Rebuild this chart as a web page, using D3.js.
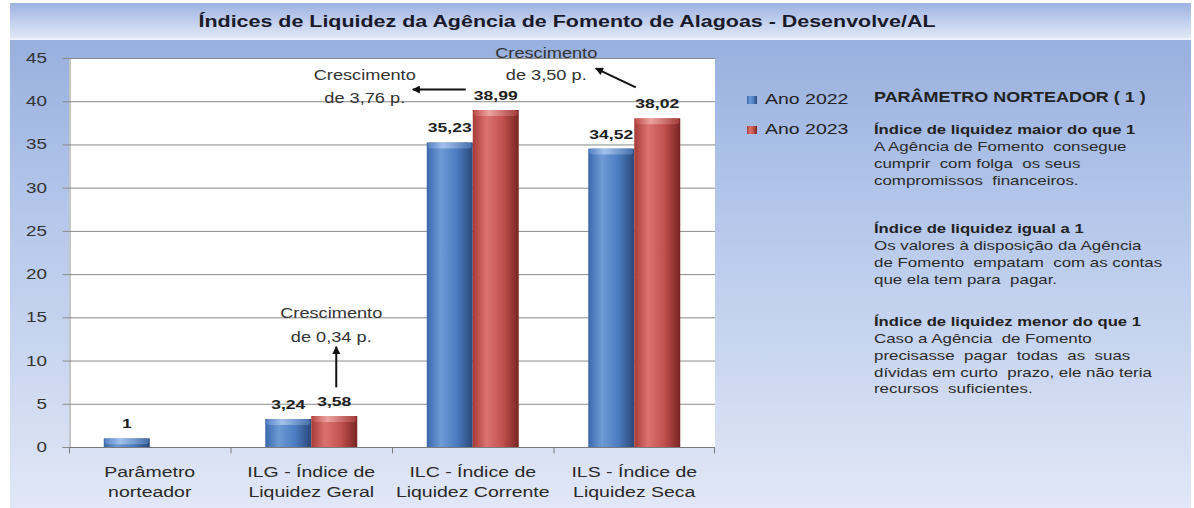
<!DOCTYPE html>
<html>
<head>
<meta charset="utf-8">
<script src="https://cdn.jsdelivr.net/npm/d3@7"></script>
<style>
  html, body { margin: 0; padding: 0; background: #fff; }
  svg { display: block; font-family: "Liberation Sans", Arial, sans-serif; }
</style>
</head>
<body>
<svg id="chart" width="1194" height="508"></svg>
<script>
// data
const categories = ["Parâmetro norteador", "ILG", "ILC", "ILS"];
const categoryLines = [
  ["Parâmetro", "norteador"],
  ["ILG - Índice de", "Liquidez Geral"],
  ["ILC - Índice de", "Liquidez Corrente"],
  ["ILS - Índice de", "Liquidez Seca"]
];
const years = ["Ano 2022", "Ano 2023"];
const values2022 = [1, 3.24, 35.23, 34.52];
const values2023 = [null, 3.58, 38.99, 38.02];
const yTicks = [0, 5, 10, 15, 20, 25, 30, 35, 40, 45];

// growth notes: text lines, where the text sits and where the arrow goes (in data units)
const notes = [
  { cat: "ILG", lines: ["Crescimento", "de 0,34 p."], tx: 20, ty: [14.9, 12.15], arrow: [[25, 6.9], [25, 11.6]] },
  { cat: "ILC", lines: ["Crescimento", "de 3,76 p."], tx: -108, ty: [42.45, 39.8], arrow: [[-7, 41.35], [-60, 41.35]] },
  { cat: "ILS", lines: ["Crescimento", "de 3,50 p."], tx: -88, ty: [45.0, 42.45], arrow: [[1.5, 41.6], [-38.5, 43.8]] }
];

const sideTitle = "PARÂMETRO NORTEADOR ( 1 )";
const sideBlocks = [
  { head: "Índice de liquidez maior do que 1",
    body: ["A Agência de Fomento  consegue", "cumprir  com folga  os seus", "compromissos  financeiros."] },
  { head: "Índice de liquidez igual a 1",
    body: ["Os valores à disposição da Agência", "de Fomento  empatam  com as contas", "que ela tem para  pagar."] },
  { head: "Índice de liquidez menor do que 1",
    body: ["Caso a Agência  de Fomento", "precisasse  pagar  todas  as  suas", "dívidas em curto  prazo, ele não teria", "recursos  suficientes."] }
];

const SVG = d3.select("#chart");
const W = 1194, H = 508;
const P = { left: 69, right: 715, top: 58, bottom: 447 };
const SX = 1.3; // the source picture is stretched sideways, text too

// text helper: places a horizontally stretched text at x,y
function txt(parent, x, y, s, size, opts = {}) {
  return parent.append("text")
    .attr("transform", `translate(${x},${y}) scale(${SX},1)`)
    .attr("text-anchor", opts.anchor || "start")
    .style("font-size", size + "px")
    .style("font-weight", opts.bold ? "bold" : null)
    .style("white-space", "pre")
    .attr("fill", opts.fill || "#222")
    .text(s);
}

const defs = SVG.append("defs");

function grad(id, horiz, stops) {
  const g = defs.append("linearGradient").attr("id", id)
    .attr("x1", 0).attr("y1", 0).attr("x2", horiz ? 1 : 0).attr("y2", horiz ? 0 : 1);
  stops.forEach(([o, c]) => g.append("stop").attr("offset", o).attr("stop-color", c));
}

grad("bg", false, [[0, "#98b0de"], [0.35, "#b3c6ea"], [1, "#e1e7f6"]]);
grad("titlebg", false, [[0, "#9db2e0"], [0.55, "#c3d1ee"], [1, "#dfe7f5"]]);
grad("blue", true, [[0, "#3a68ab"], [0.3, "#6e9ad6"], [0.65, "#4b7cc1"], [1, "#2a4878"]]);
grad("red", true, [[0, "#a63a37"], [0.3, "#dc736f"], [0.65, "#c2514e"], [1, "#782523"]]);
grad("blueCap", true, [[0, "#5a86c6"], [0.35, "#a8c6ee"], [1, "#4a74b0"]]);
grad("redCap", true, [[0, "#c0504d"], [0.35, "#eea8a5"], [1, "#a8403d"]]);

defs.append("marker")
  .attr("id", "head")
  .attr("viewBox", "0 0 10 10")
  .attr("refX", 9).attr("refY", 5)
  .attr("markerWidth", 11).attr("markerHeight", 8)
  .attr("markerUnits", "userSpaceOnUse")
  .attr("orient", "auto")
  .append("path").attr("d", "M0,0 L10,5 L0,10 z").attr("fill", "#111");

// backgrounds
SVG.append("rect").attr("x", 10).attr("y", 40).attr("width", 1181).attr("height", H - 40)
  .attr("fill", "url(#bg)");
SVG.append("rect").attr("x", 10).attr("y", 3).attr("width", 1181).attr("height", 35)
  .attr("fill", "url(#titlebg)");
SVG.append("rect").attr("x", 10).attr("y", 38).attr("width", 1181).attr("height", 2)
  .attr("fill", "#eef2fb");

txt(SVG, 567, 27, "Índices de Liquidez da Agência de Fomento de Alagoas - Desenvolve/AL", 16.5,
  { anchor: "middle", bold: true, fill: "#1a1a2a" });

SVG.append("rect")
  .attr("x", P.left).attr("y", P.top)
  .attr("width", P.right - P.left).attr("height", P.bottom - P.top)
  .attr("fill", "#fff");

// scales
const x = d3.scaleBand().domain(categories).range([P.left, P.right]).padding(0);
const pairW = 92;
const xs = d3.scaleBand().domain(years).range([0, pairW]).padding(0);
const pairX = c => x(c) + (x.bandwidth() - pairW) / 2;
const y = d3.scaleLinear().domain([0, 45]).range([P.bottom, P.top]);

// gridlines + y axis
SVG.append("g").selectAll("line").data(yTicks.filter(t => t > 0)).join("line")
  .attr("x1", P.left).attr("x2", P.right)
  .attr("y1", d => y(d) + 0.5).attr("y2", d => y(d) + 0.5)
  .attr("stroke", "#8a8a8a").attr("stroke-width", 1);

const yAxis = SVG.append("g")
  .attr("transform", `translate(${P.left + 0.5},0)`)
  .call(d3.axisLeft(y).tickValues(yTicks).tickSize(7).tickFormat(""));
yAxis.select(".domain").attr("stroke", "#8a8a8a");
yAxis.selectAll("line").attr("stroke", "#8a8a8a");
const yl = SVG.append("g");
yTicks.forEach(t => txt(yl, 47, y(t) + 5, d3.format("d")(t), 14.5, { anchor: "end", fill: "#333" }));

// x axis
const xAxisG = SVG.append("g").attr("transform", `translate(0,${P.bottom + 0.5})`);
xAxisG.append("line").attr("x1", P.left).attr("x2", P.right).attr("stroke", "#7a7a7a");
xAxisG.selectAll("line.tk").data(categories).join("line").attr("class", "tk")
  .attr("x1", d => x(d) + 0.5).attr("x2", d => x(d) + 0.5)
  .attr("y1", 0).attr("y2", 6).attr("stroke", "#7a7a7a");
xAxisG.append("line").attr("x1", P.right - 0.5).attr("x2", P.right - 0.5).attr("y1", 0).attr("y2", 6).attr("stroke", "#7a7a7a");

const xl = SVG.append("g");
categories.forEach((c, i) => {
  categoryLines[i].forEach((t, j) => {
    txt(xl, x(c) + x.bandwidth() / 2, 477 + j * 20, t, 15, { anchor: "middle", fill: "#2a2a2a" });
  });
});

// bars
const barData = [];
categories.forEach((c, i) => {
  if (values2022[i] != null) barData.push({ cat: c, year: years[0], v: values2022[i], col: "blue" });
  if (values2023[i] != null) barData.push({ cat: c, year: years[1], v: values2023[i], col: "red" });
});

const bars = SVG.append("g").selectAll("g").data(barData).join("g");
bars.append("rect")
  .attr("x", d => pairX(d.cat) + xs(d.year))
  .attr("y", d => y(d.v))
  .attr("width", xs.bandwidth())
  .attr("height", d => y(0) - y(d.v))
  .attr("fill", d => `url(#${d.col})`);
bars.append("rect")
  .attr("x", d => pairX(d.cat) + xs(d.year) + 1)
  .attr("y", d => y(d.v))
  .attr("width", xs.bandwidth() - 2)
  .attr("height", d => Math.min(6, y(0) - y(d.v)))
  .attr("rx", 3)
  .attr("fill", d => `url(#${d.col}Cap)`)
  .attr("opacity", 0.9);

const fmt = v => (Number.isInteger(v) ? String(v) : d3.format(".2f")(v).replace(".", ","));
bars.each(function (d) {
  txt(d3.select(this), pairX(d.cat) + xs(d.year) + xs.bandwidth() / 2, y(d.v) - 10, fmt(d.v), 13.5,
    { anchor: "middle", bold: true, fill: "#1e1e1e" });
});

// growth notes
const ctr = c => pairX(c) + pairW / 2;
const ng = SVG.append("g").selectAll("g").data(notes).join("g");
ng.each(function (n) {
  const g = d3.select(this);
  n.lines.forEach((t, j) => txt(g, ctr(n.cat) + n.tx, y(n.ty[j]), t, 14, { anchor: "middle", fill: "#333" }));
  g.append("line")
    .attr("x1", ctr(n.cat) + n.arrow[0][0]).attr("y1", y(n.arrow[0][1]))
    .attr("x2", ctr(n.cat) + n.arrow[1][0]).attr("y2", y(n.arrow[1][1]))
    .attr("stroke", "#111").attr("stroke-width", 2)
    .attr("marker-end", "url(#head)");
});

// legend
const leg = SVG.append("g").selectAll("g").data(years).join("g")
  .attr("transform", (d, i) => `translate(747,${96 + i * 30})`);
leg.append("rect").attr("width", 10).attr("height", 8)
  .attr("fill", (d, i) => i ? "url(#red)" : "url(#blue)");
leg.each(function (d) { txt(d3.select(this), 18, 8, d, 15, { fill: "#222" }); });

// side text
const side = SVG.append("g").attr("transform", "translate(874,0)");
txt(side, 0, 102, sideTitle, 13.8, { bold: true, fill: "#222" });

const blockTop = [134, 233, 326];
sideBlocks.forEach((b, i) => {
  txt(side, 0, blockTop[i], b.head, 12.8, { bold: true, fill: "#222" });
  b.body.forEach((t, j) => txt(side, 0, blockTop[i] + 17 + j * 16.8, t, 13, { fill: "#2a2a2a" }));
});
</script>
</body>
</html>
